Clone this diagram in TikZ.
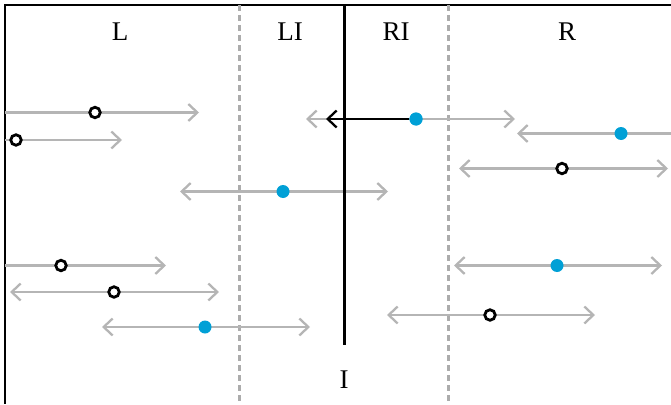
\documentclass[tikz,border=0pt]{standalone}
\usepackage{fontspec}
\setmainfont{Liberation Serif}
\usetikzlibrary{arrows.meta}
\definecolor{trackgray}{HTML}{B5B5B5}
\definecolor{dotblue}{HTML}{00A0D6}
\tikzset{
  head/.tip={Straight Barb[length=9pt,width=17pt,line width=2.3pt]},
  track/.style={draw=trackgray,line width=2.3pt,{head}-{head}},
  divider/.style={draw=trackgray!95!black,line width=3pt,dash pattern=on 6pt off 4pt},
  frameline/.style={draw=black,line width=1.8pt},
  axisline/.style={draw=black,line width=3pt},
  pull/.style={draw=black,line width=2.3pt,-{head}},
  opendot/.style={circle,draw=black,line width=2.8pt,fill=white,inner sep=0pt,minimum size=10.5pt},
  fulldot/.style={circle,fill=dotblue,inner sep=0pt,minimum size=13pt},
  zonelabel/.style={font=\fontsize{27}{32}\selectfont,inner sep=0pt,anchor=base}
}
\begin{document}
\begin{tikzpicture}[x=1pt,y=-1pt]
\useasboundingbox (0,0) rectangle (671,404);

% frame
\coordinate (tl) at (5,5);
\coordinate (tr) at (671,5);
\coordinate (bl) at (5,404);
\draw[frameline] (tr) -- (tl) -- (bl);

% zone labels
\node[zonelabel] (labL)  at (120,41) {L};
\node[zonelabel] (labLI) at (290,41) {LI};
\node[zonelabel] (labRI) at (396,41) {RI};
\node[zonelabel] (labR)  at (567,41) {R};
\node[zonelabel] (labI)  at (344,388) {I};

\begin{scope}
\clip (5,5) rectangle (671,404);

% zone dividers
\coordinate (d1t) at (239,5);   \coordinate (d1b) at (239,404);
\coordinate (d2t) at (448,5);   \coordinate (d2b) at (448,404);
\draw[divider] (d1t) -- (d1b);
\draw[divider] (d2t) -- (d2b);

% interval tracks: left end, right end
\coordinate (a1l) at (-10,112.5);  \coordinate (a1r) at (199,112.5);
\coordinate (a2l) at (-88,140);    \coordinate (a2r) at (122,140);
\coordinate (a3l) at (306,119);    \coordinate (a3r) at (515,119);
\coordinate (a4l) at (517,133.5);  \coordinate (a4r) at (726,133.5);
\coordinate (a5l) at (459,168.5);  \coordinate (a5r) at (668,168.5);
\coordinate (a6l) at (180,191.5);  \coordinate (a6r) at (388,191.5);
\coordinate (a7l) at (-43,265.5);  \coordinate (a7r) at (166,265.5);
\coordinate (a8l) at (10,292);     \coordinate (a8r) at (219,292);
\coordinate (a9l) at (102,327);    \coordinate (a9r) at (310,327);
\coordinate (a10l) at (454,265.5); \coordinate (a10r) at (662,265.5);
\coordinate (a11l) at (387,315);   \coordinate (a11r) at (595,315);
\foreach \k in {1,...,11}{\draw[track] (a\k l) -- (a\k r);}

% central axis
\coordinate (axt) at (344,5);
\coordinate (axb) at (344,345);
\draw[axisline] (axt) -- (axb);

% points
\node[opendot] (p1)  at (95,112.5) {};
\node[opendot] (p2)  at (16,140) {};
\node[fulldot] (p3)  at (416,119) {};
\node[fulldot] (p4)  at (621,133.5) {};
\node[opendot] (p5)  at (562,168.5) {};
\node[fulldot] (p6)  at (283,191.5) {};
\node[opendot] (p7)  at (61,265.5) {};
\node[opendot] (p8)  at (114,292) {};
\node[fulldot] (p9)  at (205,327) {};
\node[fulldot] (p10) at (557,265.5) {};
\node[opendot] (p11) at (490,315) {};

% projection of p3 onto the axis
\coordinate (pullend) at (326,119);
\draw[pull] (p3.west) -- (pullend);
\node[fulldot] at (p3) {};
\end{scope}
\end{tikzpicture}
\end{document}
